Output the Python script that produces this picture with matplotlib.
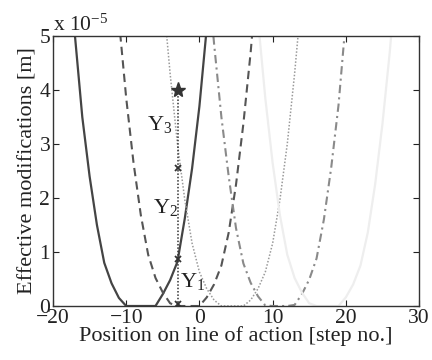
import matplotlib
matplotlib.use("Agg")
import matplotlib.pyplot as plt

plt.rcParams["font.family"] = ["Liberation Serif", "DejaVu Serif"]
plt.rcParams["mathtext.fontset"] = "custom"
plt.rcParams["mathtext.rm"] = "Liberation Serif"
plt.rcParams["mathtext.it"] = "Liberation Serif:italic"

# effective modifications, units of 1e-5 m at integer steps
x1 = [-18, -17, -16, -15, -14, -13, -12, -11, -10, -9, -8, -7, -6, -5, -4, -3, -2, -1, 0, 1]
y1 = [6.5, 5.0, 3.5, 2.4, 1.5, 0.8, 0.42, 0.15, 0.0, 0.0, 0.0, 0.0, 0.0, 0.22, 0.48, 0.82, 1.62, 2.55, 3.7, 5.15]

x2 = [-11, -10, -9, -8, -7, -6, -5, -4, -3, -2, -1, 0, 1, 2, 3, 4, 5, 6, 7, 8]
y2 = [5.3, 3.85, 2.65, 1.68, 0.95, 0.52, 0.25, 0.05, 0.0, 0.0, 0.0, 0.0, 0.16, 0.4, 0.75, 1.36, 2.25, 3.37, 4.7, 6.3]

x3 = [-5, -4, -3, -2, -1, 0, 1, 2, 3, 4, 5, 6, 7, 8, 9, 10, 11, 12, 13, 14]
y3 = [5.8, 4.3, 3.0, 1.97, 1.16, 0.63, 0.32, 0.11, 0.0, 0.0, 0.0, 0.0, 0.11, 0.32, 0.63, 1.16, 1.97, 3.0, 4.3, 5.8]

x4 = [1, 2, 3, 4, 5, 6, 7, 8, 9, 10, 11, 12, 13, 14, 15, 16, 17, 18, 19, 20, 21]
y4 = [6.4, 4.86, 3.5, 2.4, 1.44, 0.79, 0.43, 0.18, 0.01, 0.0, 0.0, 0.0, 0.02, 0.22, 0.49, 0.88, 1.6, 2.56, 3.72, 5.3, 6.8]

x5 = [8, 9, 10, 11, 12, 13, 14, 15, 16, 17, 18, 19, 20, 21, 22, 23, 24, 25, 26, 27]
y5 = [5.3, 3.85, 2.65, 1.68, 0.95, 0.52, 0.25, 0.05, 0.0, 0.0, 0.0, 0.0, 0.16, 0.4, 0.75, 1.36, 2.25, 3.37, 4.7, 6.3]

# cumulative points at the chosen position
pos = -2.9
cum_y = [0.03, 0.87, 2.55]
star_y = 4.0

labels = ["Y$_1$", "Y$_2$", "Y$_3$"]
label_x = [-2.7, -6.4, -7.1]
label_y = [0.35, 1.72, 3.26]

fig = plt.figure(figsize=(4.32, 3.6), dpi=100)
ax = fig.add_axes([0.1227, 0.15, 0.8473, 0.75])

ax.plot(x1, y1, color="#444444", lw=1.6)
ax.plot(x2, y2, color="#555555", lw=1.5, ls=(0, (4, 2.5)))
ax.plot(x3, y3, color="#9a9a9a", lw=1.1, ls=(0, (1, 1.2)))
ax.plot(x4, y4, color="#8a8a8a", lw=1.5, ls=(0, (4, 2, 1, 2)))
ax.plot(x5, y5, color="#eeeeee", lw=1.6)

ax.plot([pos, pos], [0, star_y], color="#333333", lw=1.1, ls=(0, (1, 1.2)))
ax.plot([pos] * len(cum_y), cum_y, ls="none", marker="x", ms=4, mew=1.3, color="#333333")
ax.plot([pos], [star_y], ls="none", marker="*", ms=11, color="#333333")

for lab, lx, ly in zip(labels, label_x, label_y):
    ax.text(lx, ly, lab, fontsize=16, color="#222222")

ax.set_xlim(-20, 30)
ax.set_ylim(0, 5)
ax.set_xticks([-20, -10, 0, 10, 20, 30])
ax.set_yticks([0, 1, 2, 3, 4, 5])
ax.tick_params(direction="in", length=4, width=0.8, top=True, right=True,
               labelsize=15.5, colors="#222222", pad=2)
for s in ax.spines.values():
    s.set_color("#333333")
    s.set_linewidth(1.0)

ax.set_xlabel("Position on line of action [step no.]", fontsize=16, color="#222222", labelpad=-1)
ax.set_ylabel("Effective modifications [m]", fontsize=16, color="#222222", labelpad=1)
ax.text(0.0, 1.0, "x 10$^{-5}$", transform=ax.transAxes, fontsize=15.5,
        color="#222222", ha="left", va="bottom")

fig.savefig("out.png", dpi=100)
